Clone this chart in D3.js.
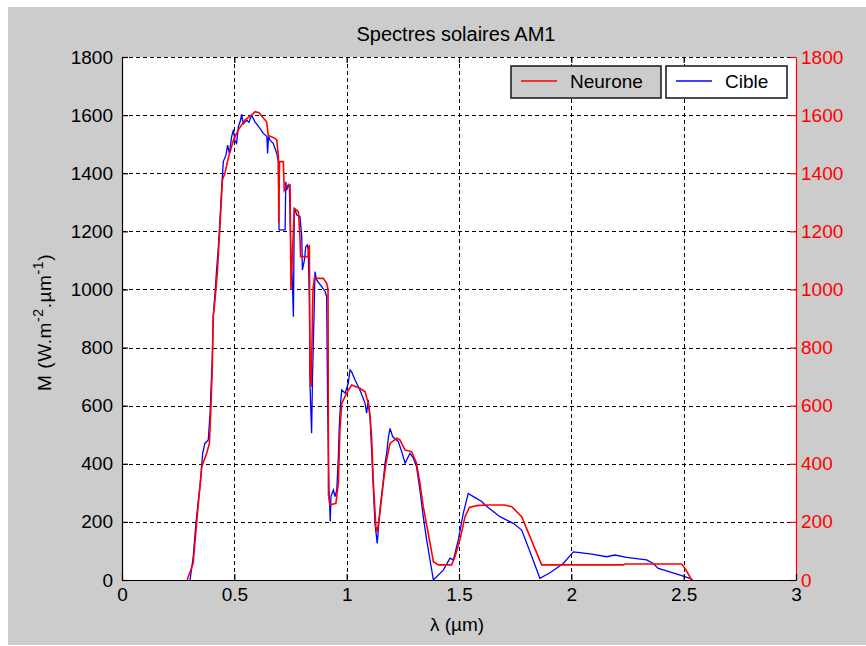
<!DOCTYPE html>
<html>
<head>
<meta charset="utf-8">
<script src="https://cdn.jsdelivr.net/npm/d3@7"></script>
<style>
  html, body { margin: 0; padding: 0; background: #fff; }
  svg { display: block; font-family: "Liberation Sans", Arial, sans-serif; }
</style>
</head>
<body>
<svg id="chart" width="866" height="646"></svg>
<script>
// Spectres solaires AM1 : réseau de neurones vs spectre cible
const xTicks = [0, 0.5, 1, 1.5, 2, 2.5, 3];
const yTicks = [0, 200, 400, 600, 800, 1000, 1200, 1400, 1600, 1800];
const seriesNames = ["Neurone", "Cible"];

// [lambda (µm), M]
const neurone = [
  [0.29, 0], [0.317, 58], [0.332, 195], [0.355, 390], [0.377, 436], [0.389, 471],
  [0.395, 575], [0.402, 734], [0.406, 906], [0.414, 964], [0.424, 1055], [0.436, 1216],
  [0.447, 1377], [0.458, 1400], [0.473, 1451], [0.496, 1514], [0.518, 1549], [0.547, 1583],
  [0.577, 1600], [0.592, 1612], [0.61, 1608], [0.629, 1590], [0.644, 1577], [0.651, 1530],
  [0.681, 1520], [0.689, 1515], [0.696, 1457], [0.698, 1230], [0.701, 1440], [0.718, 1440],
  [0.722, 1342], [0.730, 1354], [0.748, 1360], [0.752, 1000], [0.767, 1279], [0.785, 1268],
  [0.792, 1182], [0.795, 1113], [0.829, 1113], [0.830, 1147], [0.834, 1150], [0.837, 700],
  [0.842, 665], [0.850, 1000], [0.856, 1038], [0.896, 1038], [0.911, 1021], [0.917, 1000],
  [0.919, 292], [0.926, 258], [0.952, 264], [0.963, 333], [0.970, 516], [0.978, 608],
  [1.0, 643], [1.022, 671], [1.059, 660], [1.082, 648], [1.096, 608], [1.104, 562],
  [1.111, 493], [1.119, 333], [1.130, 183], [1.136, 166], [1.148, 230], [1.163, 333],
  [1.175, 402], [1.193, 470], [1.223, 488], [1.237, 482], [1.260, 447], [1.289, 442],
  [1.311, 402], [1.326, 333], [1.341, 252], [1.363, 161], [1.386, 63], [1.408, 52],
  [1.467, 52], [1.482, 80], [1.504, 138], [1.527, 218], [1.546, 250], [1.579, 256],
  [1.623, 258], [1.705, 258], [1.735, 252], [1.757, 235], [1.779, 218], [1.868, 52],
  [2.231, 52], [2.239, 55], [2.491, 55], [2.506, 40], [2.536, 0]
];

const cible = [
  [0.303, 0], [0.317, 80], [0.329, 195], [0.340, 275], [0.350, 344], [0.359, 436],
  [0.369, 470], [0.384, 482], [0.392, 574], [0.402, 768], [0.406, 906], [0.414, 987],
  [0.421, 1067], [0.429, 1147], [0.436, 1239], [0.444, 1354], [0.451, 1440], [0.463, 1463],
  [0.470, 1497], [0.478, 1468], [0.488, 1526], [0.496, 1549], [0.503, 1510], [0.510, 1503],
  [0.518, 1560], [0.528, 1583], [0.532, 1603], [0.540, 1570], [0.555, 1583], [0.565, 1575],
  [0.577, 1600], [0.592, 1577], [0.614, 1554], [0.629, 1537], [0.645, 1526], [0.648, 1468],
  [0.652, 1526], [0.659, 1514], [0.673, 1503], [0.689, 1468], [0.696, 1440], [0.699, 1205],
  [0.726, 1205], [0.729, 1371], [0.733, 1342], [0.740, 1360], [0.745, 1350], [0.752, 1124],
  [0.758, 1033], [0.763, 906], [0.767, 1280], [0.778, 1256], [0.792, 1251], [0.800, 1182],
  [0.803, 1067], [0.812, 1101], [0.818, 1147], [0.825, 1153], [0.829, 1136], [0.834, 964],
  [0.837, 665], [0.844, 505], [0.848, 700], [0.855, 918], [0.859, 1061], [0.866, 1033],
  [0.889, 1010], [0.904, 993], [0.911, 975], [0.915, 620], [0.921, 321], [0.927, 201],
  [0.930, 287], [0.941, 310], [0.948, 287], [0.956, 310], [0.963, 424], [0.967, 528],
  [0.973, 608], [0.978, 654], [0.993, 643], [1.007, 677], [1.015, 723], [1.022, 717],
  [1.037, 689], [1.059, 654], [1.082, 608], [1.089, 574], [1.096, 620], [1.104, 562],
  [1.111, 447], [1.119, 310], [1.126, 195], [1.136, 126], [1.148, 241], [1.163, 344],
  [1.171, 402], [1.178, 436], [1.186, 493], [1.193, 522], [1.205, 493], [1.230, 476],
  [1.245, 442], [1.260, 402], [1.282, 436], [1.297, 419], [1.311, 390], [1.326, 310],
  [1.341, 218], [1.356, 138], [1.386, 0], [1.430, 34], [1.46, 75], [1.475, 69],
  [1.497, 138], [1.519, 229], [1.541, 298], [1.564, 287], [1.601, 270], [1.616, 258],
  [1.682, 218], [1.742, 195], [1.779, 172], [1.816, 97], [1.860, 6], [1.905, 25],
  [1.964, 57], [2.009, 97], [2.039, 94], [2.098, 88], [2.157, 80], [2.194, 86],
  [2.246, 78], [2.335, 69], [2.365, 57], [2.387, 40], [2.424, 31], [2.484, 17],
  [2.528, 6], [2.54, 0]
];

const W = 866, H = 646;
const plot = { left: 122, right: 796, top: 57, bottom: 580 };
const svg = d3.select("#chart");

// grey figure background
svg.append("rect").attr("x", 8).attr("y", 7)
  .attr("width", W - 8).attr("height", H - 8)
  .attr("fill", "#cccccc");

const x = d3.scaleLinear().domain([0, 3]).range([plot.left, plot.right]);
const y = d3.scaleLinear().domain([0, 1800]).range([plot.bottom, plot.top]);

svg.append("rect")
  .attr("x", plot.left).attr("y", plot.top)
  .attr("width", plot.right - plot.left).attr("height", plot.bottom - plot.top)
  .attr("fill", "#fff");

// dashed grid
const grid = svg.append("g").attr("stroke", "#000").attr("stroke-width", 1)
  .attr("stroke-dasharray", "4,3").attr("shape-rendering", "crispEdges");
grid.selectAll("line.vx").data(xTicks.filter(t => t > 0 && t < 3)).join("line")
  .attr("x1", d => Math.round(x(d)) + 0.5).attr("x2", d => Math.round(x(d)) + 0.5)
  .attr("y1", plot.top).attr("y2", plot.bottom);
grid.selectAll("line.hy").data(yTicks.filter(t => t > 0)).join("line")
  .attr("y1", d => Math.round(y(d)) + 0.5).attr("y2", d => Math.round(y(d)) + 0.5)
  .attr("x1", plot.left).attr("x2", plot.right);

// curves
const line = d3.line().x(d => x(d[0])).y(d => y(d[1]));
svg.append("path").datum(cible).attr("d", line)
  .attr("fill", "none").attr("stroke", "#0000ff").attr("stroke-width", 1.3);
svg.append("path").datum(neurone).attr("d", line)
  .attr("fill", "none").attr("stroke", "#ff0000").attr("stroke-width", 1.6);

// axes
const tickFont = 19;
const fmt = d => String(d);
const axL = svg.append("g").attr("transform", `translate(${plot.left},0)`)
  .call(d3.axisLeft(y).tickValues(yTicks).tickFormat(fmt).tickSizeInner(-6).tickSizeOuter(0).tickPadding(9));
const axR = svg.append("g").attr("transform", `translate(${plot.right},0)`)
  .call(d3.axisRight(y).tickValues(yTicks).tickFormat(fmt).tickSizeInner(-6).tickSizeOuter(0).tickPadding(5));
const axB = svg.append("g").attr("transform", `translate(0,${plot.bottom})`)
  .call(d3.axisBottom(x).tickValues(xTicks).tickFormat(fmt).tickSizeInner(-6).tickSizeOuter(0).tickPadding(8));
const axT = svg.append("g").attr("transform", `translate(0,${plot.top})`)
  .call(d3.axisTop(x).tickValues(xTicks.filter(t => t > 0 && t < 3)).tickSizeInner(-6).tickSizeOuter(0).tickFormat(""));
axT.select(".domain").remove();

[axL, axB, axT].forEach(a => {
  a.selectAll("path, line").attr("stroke", "#000").attr("stroke-width", 1.2);
  a.selectAll("text").attr("fill", "#000");
});
axR.selectAll("path, line").attr("stroke", "#ff0000").attr("stroke-width", 1.2);
axR.selectAll("text").attr("fill", "#ff0000");
[axL, axR, axB].forEach(a => a.selectAll("text")
  .attr("font-family", "Liberation Sans, Arial, sans-serif").attr("font-size", tickFont));

// titles
svg.append("text").attr("x", 456).attr("y", 41).attr("text-anchor", "middle")
  .attr("font-size", 20).attr("fill", "#000").text("Spectres solaires AM1");
svg.append("text").attr("x", 457).attr("y", 631).attr("text-anchor", "middle")
  .attr("font-size", 19).attr("fill", "#000").text("λ (µm)");

const yl = svg.append("text").attr("transform", "translate(51,391) rotate(-90)")
  .attr("text-anchor", "start").attr("font-size", 19).attr("letter-spacing", 0.6).attr("fill", "#000");
yl.append("tspan").text("M (W.m");
yl.append("tspan").attr("dy", -8).attr("font-size", 14).text("-2");
yl.append("tspan").attr("dy", 8).text(".µm");
yl.append("tspan").attr("dy", -8).attr("font-size", 14).text("-1");
yl.append("tspan").attr("dy", 8).text(")");

// legend: one box per series
const legendBoxes = [
  { x: 511, w: 150, fill: "#cccccc", color: "#ff0000" },
  { x: 666, w: 121, fill: "#ffffff", color: "#0000ff" }
];
const lg = svg.append("g").selectAll("g").data(seriesNames).join("g")
  .attr("transform", (d, i) => `translate(${legendBoxes[i].x},66)`);
lg.append("rect").attr("width", (d, i) => legendBoxes[i].w).attr("height", 32)
  .attr("fill", (d, i) => legendBoxes[i].fill).attr("stroke", "#222").attr("stroke-width", 1.6);
lg.append("line").attr("x1", 10).attr("x2", 46).attr("y1", 15).attr("y2", 15)
  .attr("stroke", (d, i) => legendBoxes[i].color).attr("stroke-width", 1.5);
lg.append("text").attr("x", 59).attr("y", 22).attr("font-size", 19).attr("fill", "#000")
  .text(d => d);
</script>
</body>
</html>
